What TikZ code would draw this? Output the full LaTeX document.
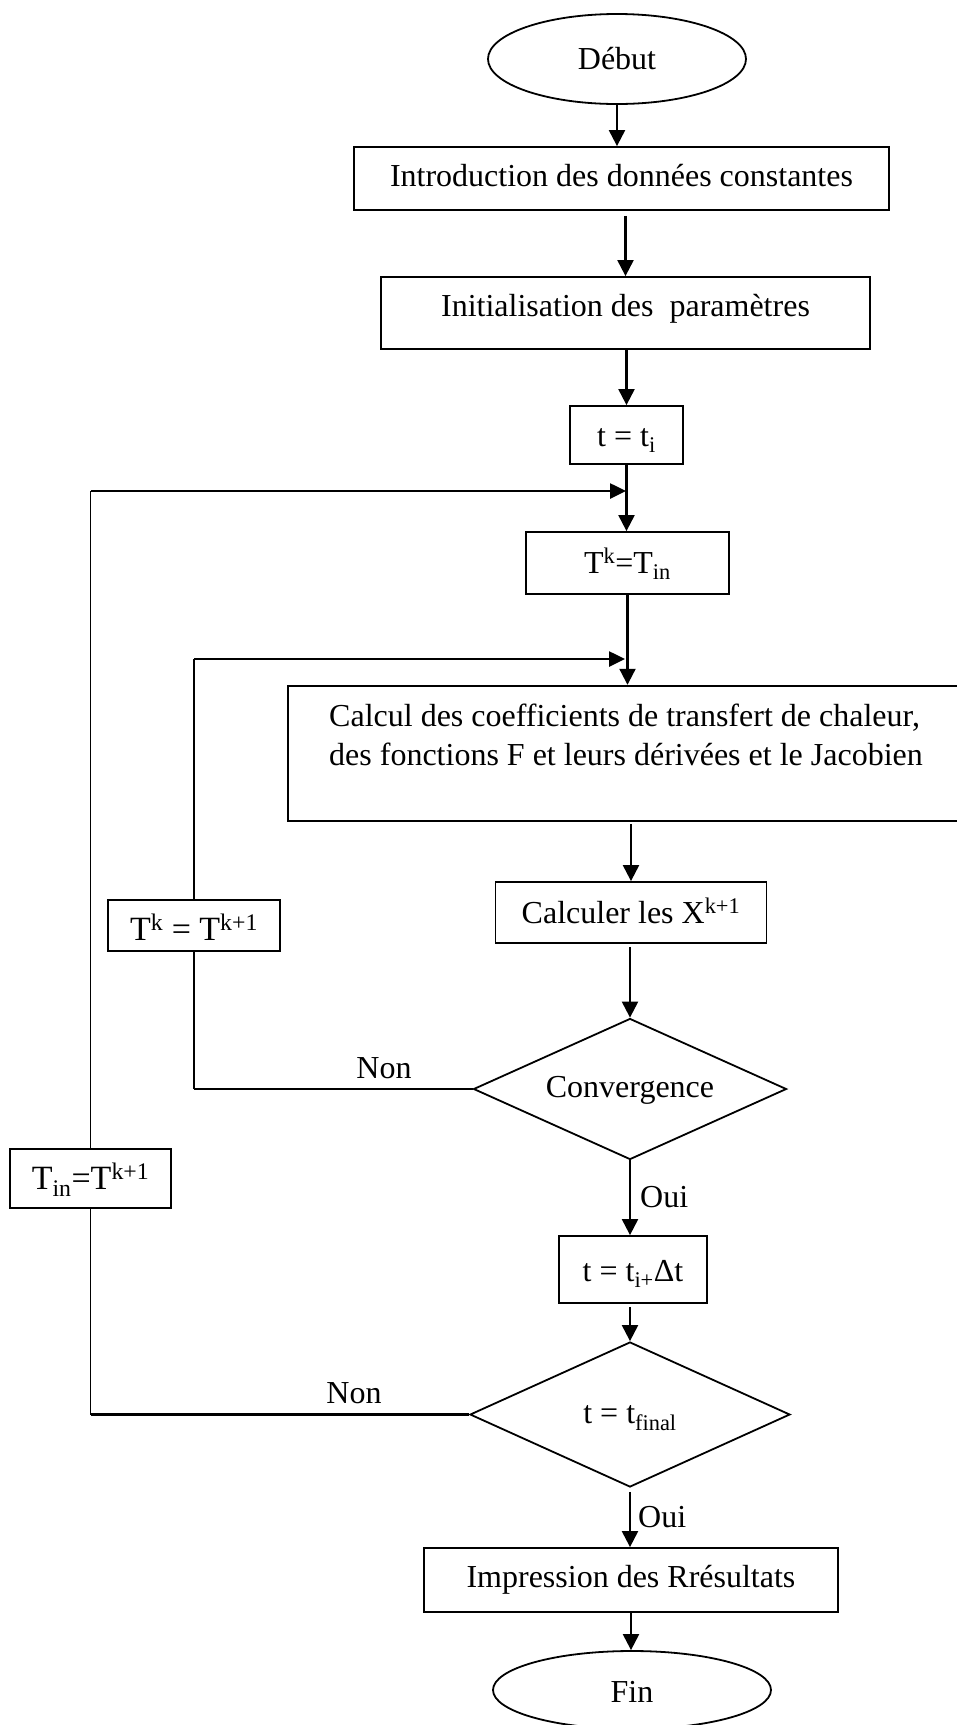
\documentclass[tikz,border=0pt]{standalone}
\usepackage{fontspec}
\setmainfont{Liberation Serif}
\usetikzlibrary{shapes.geometric,arrows.meta}
\begin{document}
\begin{tikzpicture}[x=1pt,y=-1pt,
  every node/.style={font=\fontsize{32}{40}\selectfont},
  tb/.style 2 args={text height=#1pt,text depth=#2pt},
  box/.style={draw,line width=1.8pt,inner sep=0pt,rectangle},
  oval/.style={draw,line width=1.8pt,ellipse,inner sep=0pt},
  dec/.style={draw,line width=1.8pt,diamond,shape aspect=2.2,inner sep=0pt},
  arr/.style={line width=2.1pt,-{Triangle[length=16pt,width=16pt]}},
  looparr/.style={line width=2.6pt,-{Triangle[length=16pt,width=15pt]}},
  loopline/.style={line width=2.4pt},
  thinline/.style={line width=1.4pt},
  lbl/.style={inner sep=0pt}
]
\useasboundingbox (0,0) rectangle (957,1725);
\node[oval,tb={24}{4},minimum width=258pt,minimum height=90pt] (debut) at (617,59) {Début};
\node[box,tb={22}{6},minimum width=535pt,minimum height=63pt] (intro) at (621.5,178.5) {Introduction des données constantes};
\node[box,tb={20}{14},minimum width=489pt,minimum height=72pt] (init) at (625.5,313) {Initialisation des~ paramètres};
\node[box,tb={25}{2},minimum width=113pt,minimum height=58pt] (tti) at (626.5,435) {t = t\textsubscript{i}};
\node[box,tb={24}{4},minimum width=203pt,minimum height=62pt] (tktin) at (627.5,563) {T\textsuperscript{k}=T\textsubscript{in}};
\node[box,line width=2.4pt,minimum width=672pt,minimum height=135pt] (calc) at (624,753.5) {};
\node[lbl,anchor=base west] (calc1) at (329,726) {Calcul des coefficients de transfert de chaleur,};
\node[lbl,anchor=base west] (calc2) at (329,765) {des fonctions F et leurs dérivées et le Jacobien};
\node[box,tb={24}{3},minimum width=271pt,minimum height=61pt] (calculer) at (631,912.5) {Calculer les X\textsuperscript{k+1}};
\node[box,tb={29}{0},minimum width=172pt,minimum height=51pt,font=\fontsize{34}{40}\selectfont] (tk1) at (194,925.5) {T\textsuperscript{k} = T\textsuperscript{k+1}};
\node[box,tb={24}{3},minimum width=161pt,minimum height=59pt,font=\fontsize{34}{40}\selectfont] (tin) at (90.5,1178.5) {T\textsubscript{in}=T\textsuperscript{k+1}};
\node[dec,tb={22}{6},minimum width=313pt,minimum height=141pt] (conv) at (630,1089) {Convergence};
\node[box,tb={25}{1},minimum width=148pt,minimum height=67pt] (tdt) at (633,1269.5) {t = t\textsubscript{i+}Δt};
\node[dec,tb={23}{6},minimum width=320pt,minimum height=145pt] (tfin) at (630,1414.5) {t = t\textsubscript{final}};
\node[box,tb={22}{8},minimum width=414pt,minimum height=64pt] (imp) at (631,1580) {Impression des Rrésultats};
\node[oval,tb={24}{0},minimum width=278pt,minimum height=78pt] (fin) at (632,1690) {Fin};
\coordinate (j1) at (626,491);
\coordinate (j2) at (625,659);
% main flow
\draw[arr] (debut.south) -- (debut.south |- intro.north);
\draw[arr] ([yshift=-5pt]init.north |- intro.south) -- (init.north);
\draw[arr] (tti.north |- init.south) -- (tti.north);
\draw[arr] (tti.south) -- (tti.south |- tktin.north);
\draw[arr] (tktin.south) -- (tktin.south |- calc.north);
\draw[arr] ([yshift=-2pt]calculer.north |- calc.south) -- (calculer.north);
\draw[arr] ([yshift=-3pt]conv.north |- calculer.south) -- (conv.north);
\draw[arr] (conv.south) -- (conv.south |- tdt.north);
\draw[arr] ([yshift=-3pt]tfin.north |- tdt.south) -- (tfin.north);
\draw[arr] ([yshift=-4pt]tfin.south) -- (tfin.south |- imp.north);
\draw[arr] (imp.south) -- (imp.south |- fin.north);
% outer loop
\draw[loopline] (tfin.west) -- (tin.south |- tfin.west);
\draw[thinline] (tin.south |- tfin.west) -- (tin.south);
\draw[thinline] (tin.north) -- (tin.north |- j1);
\draw[looparr] (tin.north |- j1) -- (j1);
% inner loop
\draw[loopline] (conv.west) -- (tk1.south |- conv.west);
\draw[thinline] (tk1.south |- conv.west) -- (tk1.south);
\draw[thinline] (tk1.north) -- (tk1.north |- j2);
\draw[looparr] (tk1.north |- j2) -- (j2);
% labels
\node[lbl] (non1) at (384,1068) {Non};
\node[lbl] (non2) at (354,1393) {Non};
\node[lbl,anchor=west] (oui1) at (640,1197) {Oui};
\node[lbl,anchor=west] (oui2) at (638,1517) {Oui};
\end{tikzpicture}
\end{document}
